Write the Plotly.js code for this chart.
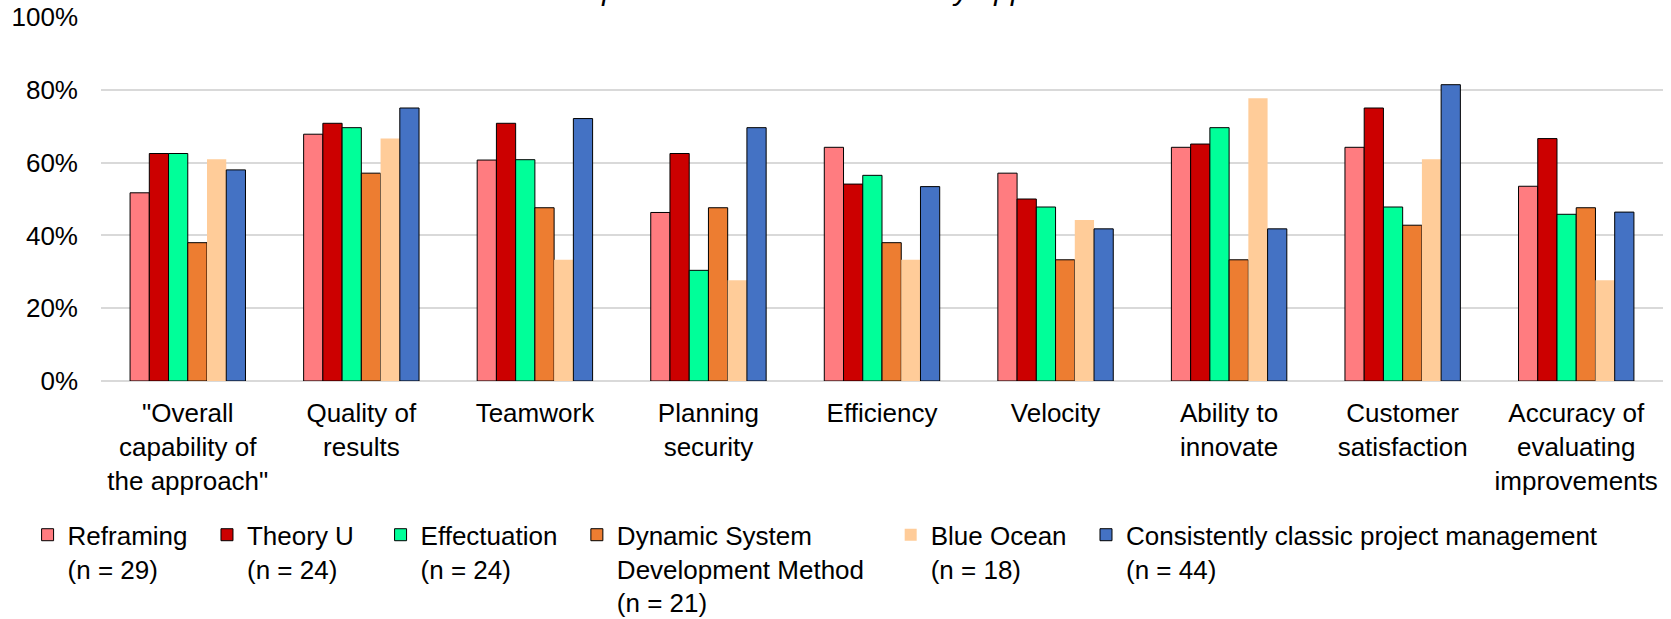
<!DOCTYPE html>
<html>
<head>
<meta charset="utf-8">
<script src="https://cdn.plot.ly/plotly-3.0.1.min.js"></script>
<style>
  html, body { margin: 0; padding: 0; background: #ffffff; }
  #chart { width: 1671px; height: 619px; }
</style>
</head>
<body>
<div id="chart"></div>
<script>
const categories = [
  '"Overall<br>capability of<br>the approach"',
  'Quality of<br>results',
  'Teamwork',
  'Planning<br>security',
  'Efficiency',
  'Velocity',
  'Ability to<br>innovate',
  'Customer<br>satisfaction',
  'Accuracy of<br>evaluating<br>improvements'
];

const seriesNames = [
  'Reframing<br>(n = 29)',
  'Theory U<br>(n = 24)',
  'Effectuation<br>(n = 24)',
  'Dynamic System<br>Development Method<br>(n = 21)',
  'Blue Ocean<br>(n = 18)',
  'Consistently classic project management<br>(n = 44)'
];

const reframing    = [0.517, 0.678, 0.607, 0.463, 0.642, 0.571, 0.642, 0.642, 0.535];
const theoryU      = [0.625, 0.708, 0.708, 0.625, 0.541, 0.500, 0.651, 0.750, 0.666];
const effectuation = [0.625, 0.696, 0.608, 0.304, 0.565, 0.478, 0.696, 0.478, 0.458];
const dsdm         = [0.380, 0.571, 0.476, 0.476, 0.380, 0.333, 0.333, 0.428, 0.476];
const blueOcean    = [0.609, 0.666, 0.333, 0.277, 0.333, 0.442, 0.777, 0.609, 0.277];
const classicPM    = [0.580, 0.750, 0.721, 0.696, 0.534, 0.418, 0.418, 0.814, 0.464];

const seriesValues = [reframing, theoryU, effectuation, dsdm, blueOcean, classicPM];
const colors = ['#FF7C80', '#CC0000', '#00FF99', '#ED7D31', '#FFCC99', '#4472C4'];
const outlineWidths = [1, 1, 1, 1, 0, 1];

const FONT = 'Liberation Sans, Arial, sans-serif';
// legend spacing: [line index to pad, number of no-break spaces]
const legendPad = [[0, 2], [0, 3], [0, 2], [1, 3], [0, 2], [0, 0]];

const traces = seriesValues.map((vals, i) => {
  const parts = seriesNames[i].split('<br>');
  const [li, n] = legendPad[i];
  parts[li] = parts[li] + '\u00A0'.repeat(n);
  return {
    type: 'bar',
    name: parts.join('<br>'),
    x: categories,
    y: vals,
    marker: {
      color: colors[i],
      line: { color: '#000000', width: outlineWidths[i] }
    },
    hoverinfo: 'skip'
  };
});

const layout = {
  width: 1671,
  height: 619,
  paper_bgcolor: '#ffffff',
  plot_bgcolor: '#ffffff',
  font: { family: FONT, size: 26, color: '#000000' },
  margin: { l: 101, r: 8, t: 17, b: 238, pad: 0, autoexpand: false },
  barmode: 'group',
  bargap: 0.335,
  bargroupgap: 0,
  showlegend: true,
  legend: {
    orientation: 'h',
    x: -0.047,
    xanchor: 'left',
    y: -0.358,
    yanchor: 'top',
    valign: 'top',
    traceorder: 'normal',
    font: { family: FONT, size: 26, color: '#000000' },
    bgcolor: 'rgba(0,0,0,0)'
  },
  xaxis: {
    type: 'category',
    showgrid: false,
    showline: false,
    zeroline: false,
    ticks: '',
    tickfont: { family: FONT, size: 26, color: '#000000' },
    ticklabelstandoff: 14,
    automargin: false
  },
  yaxis: {
    range: [0, 1],
    dtick: 0.2,
    tick0: 0,
    tickformat: '.0%',
    showgrid: true,
    gridcolor: '#D9D9D9',
    gridwidth: 2,
    zeroline: true,
    zerolinecolor: '#D9D9D9',
    zerolinewidth: 2,
    showline: false,
    ticks: '',
    tickfont: { family: FONT, size: 26, color: '#000000' },
    ticklabelstandoff: 22,
    automargin: false
  },
  annotations: [{
    text: 'Comparison of the evaluation by approach',
    xref: 'paper', yref: 'paper',
    x: 0.461, y: 1.075,
    xanchor: 'center', yanchor: 'middle',
    showarrow: false,
    font: { family: FONT, size: 30, color: '#000000', style: 'italic' }
  }]
};

Plotly.newPlot('chart', traces, layout, { staticPlot: true, displayModeBar: false });
</script>
</body>
</html>
